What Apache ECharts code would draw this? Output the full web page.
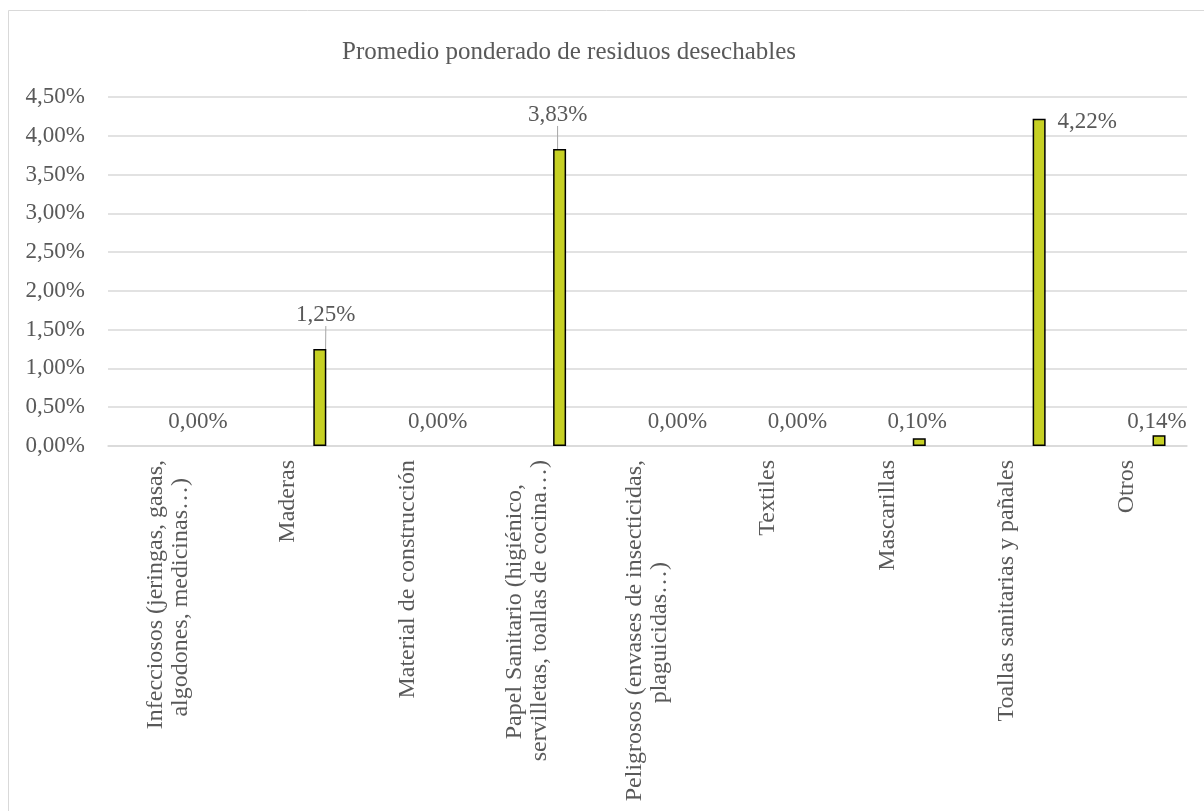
<!DOCTYPE html>
<html>
<head>
<meta charset="utf-8">
<script src="https://cdn.jsdelivr.net/npm/echarts@6/dist/echarts.min.js"></script>
<style>
html,body{margin:0;padding:0;background:#fff;}
#chart{width:1204px;height:811px;}
</style>
</head>
<body>
<div id="chart"></div>
<script>
const titleText = 'Promedio ponderado de residuos desechables';
const categories = [
  'Infecciosos (jeringas, gasas,\nalgodones, medicinas…)',
  'Maderas',
  'Material de construcción',
  'Papel Sanitario (higiénico,\nservilletas, toallas de cocina…)',
  'Peligrosos (envases de insecticidas,\nplaguicidas…)',
  'Textiles',
  'Mascarillas',
  'Toallas sanitarias y pañales',
  'Otros'
];
const values = [0.00, 1.25, 0.00, 3.83, 0.00, 0.00, 0.10, 4.22, 0.14];
const yTicks = { min: 0, max: 4.5, interval: 0.5 };
const emptyGroup = categories.map(() => null);

const FONT = '"Liberation Serif", "Times New Roman", serif';
const TXT = '#595959';
const CAT_SIZE = 24;
const fmtPct = v => Number(v).toFixed(2).replace('.', ',') + '%';

// centre the lines of multi-line rotated labels (Excel centres them)
const measureCtx = document.createElement('canvas').getContext('2d');
measureCtx.font = CAT_SIZE + 'px ' + FONT;
const NBSP = '\u00a0';
const nbspW = measureCtx.measureText(NBSP).width || CAT_SIZE * 0.25;
function centreLines(label) {
  const lines = label.split('\n');
  if (lines.length < 2) return label;
  const widths = lines.map(s => measureCtx.measureText(s).width);
  const maxW = Math.max.apply(null, widths);
  return lines.map((s, i) => {
    const n = Math.round((maxW - widths[i]) / 2 / nbspW);
    return s + NBSP.repeat(Math.max(0, n));
  }).join('\n');
}

// label displacement (pixels) to mimic the manually placed labels
const labelShift = {1: [6, -18], 3: [-2, -18], 7: [48, 20]};
const guideIdx = [1, 3];

const chart = echarts.init(document.getElementById('chart'), null, {renderer: 'canvas'});
chart.setOption({
  backgroundColor: '#ffffff',
  animation: false,
  title: {
    text: titleText,
    left: 337,
    top: 35,
    textStyle: {fontFamily: FONT, fontSize: 25, fontWeight: 'normal', color: TXT}
  },
  graphic: [{
    type: 'rect',
    shape: {x: 8.5, y: 10.5, width: 1220, height: 830},
    style: {fill: 'none', stroke: '#d9d9d9', lineWidth: 1},
    silent: true,
    z: -1
  }],
  grid: {left: 108, top: 97, width: 1079, height: 349, containLabel: false},
  xAxis: {
    type: 'category',
    data: categories,
    axisLine: {show: true, lineStyle: {color: '#d9d9d9', width: 1.5}},
    axisTick: {show: false},
    axisLabel: {
      rotate: 90,
      margin: 14,
      interval: 0,
      fontFamily: FONT,
      fontSize: CAT_SIZE,
      color: TXT,
      lineHeight: 25,
      formatter: v => centreLines(v)
    },
    splitLine: {show: false}
  },
  yAxis: {
    type: 'value',
    min: yTicks.min,
    max: yTicks.max,
    interval: yTicks.interval,
    axisLine: {show: false},
    axisTick: {show: false},
    axisLabel: {
      margin: 23,
      fontFamily: FONT,
      fontSize: 23,
      color: TXT,
      formatter: v => fmtPct(v)
    },
    splitLine: {lineStyle: {color: '#d9d9d9', width: 1.5}}
  },
  series: [
    {
      type: 'bar',
      name: 'grupo',
      data: emptyGroup,
      barWidth: 13,
      barGap: '392%',
      silent: true
    },
    {
      type: 'bar',
      name: 'Promedio ponderado',
      data: values.map((v, i) => ({
        value: v,
        itemStyle: v === 0 ? {borderWidth: 0} : undefined,
        labelLine: {show: guideIdx.indexOf(i) >= 0}
      })),
      barWidth: 13,
      barGap: '392%',
      itemStyle: {color: '#c6d024', borderColor: '#000000', borderWidth: 1.5},
      label: {
        show: true,
        position: 'top',
        distance: 5,
        fontFamily: FONT,
        fontSize: 23,
        color: TXT,
        formatter: p => fmtPct(p.value)
      },
      labelLine: {show: false, lineStyle: {color: '#a6a6a6', width: 1}},
      labelLayout: function (params) {
        const s = labelShift[params.dataIndex];
        if (s) return {dx: s[0], dy: s[1]};
        const v = values[params.dataIndex];
        if (v === 0) return {dx: -2, dy: -8};
        if (v > 0.12) return {dx: -2, dy: 3};
        return {dx: -2, dy: 0};
      }
    }
  ]
});
</script>
</body>
</html>
